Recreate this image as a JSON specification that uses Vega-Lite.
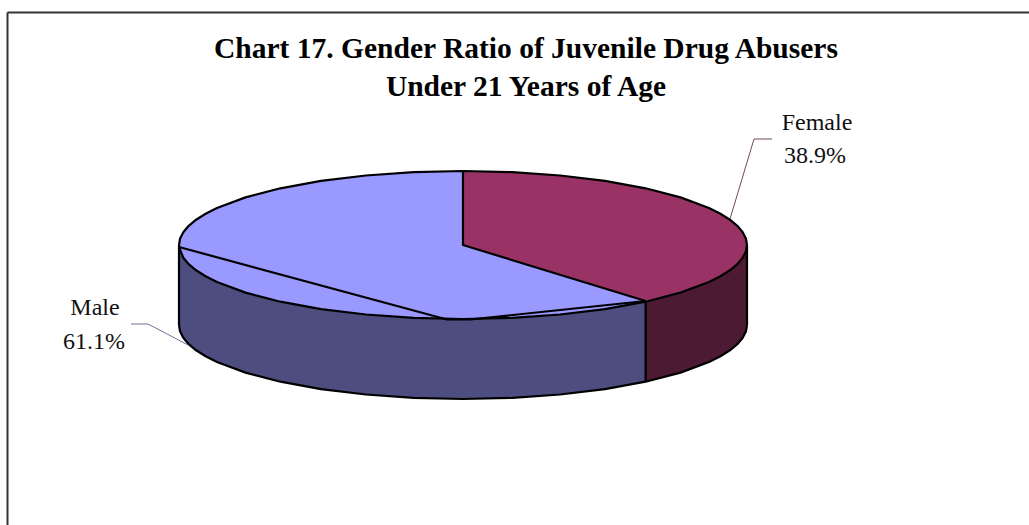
{
"$schema":"https://vega.github.io/schema/vega-lite/v6.json",
"width":1029,"height":525,
"autosize":{"type":"fit","contains":"padding"},
"padding":0,
"background":"white",
"view":{"stroke":null},
"datasets":{
"sides":[
{"s":"Male side","x":179,"y":245,"y2":325},
{"s":"Male side","x":180.1,"y":251.5,"y2":331.5},
{"s":"Male side","x":183.3,"y":257.8,"y2":337.8},
{"s":"Male side","x":188.7,"y":264.2,"y2":344.2},
{"s":"Male side","x":196.1,"y":270.3,"y2":350.3},
{"s":"Male side","x":205.6,"y":276.3,"y2":356.3},
{"s":"Male side","x":217,"y":282,"y2":362},
{"s":"Male side","x":245.5,"y":292.6,"y2":372.6},
{"s":"Male side","x":280.4,"y":301.7,"y2":381.7},
{"s":"Male side","x":321,"y":309.1,"y2":389.1},
{"s":"Male side","x":365.9,"y":314.5,"y2":394.5},
{"s":"Male side","x":413.7,"y":317.9,"y2":397.9},
{"s":"Male side","x":463,"y":319,"y2":399},
{"s":"Male side","x":512.3,"y":317.9,"y2":397.9},
{"s":"Male side","x":560.1,"y":314.5,"y2":394.5},
{"s":"Male side","x":605,"y":309.1,"y2":389.1},
{"s":"Male side","x":645.6,"y":301.7,"y2":381.7},
{"s":"Female side","x":645.6,"y":301.7,"y2":381.7},
{"s":"Female side","x":680.5,"y":292.6,"y2":372.6},
{"s":"Female side","x":709,"y":282,"y2":362},
{"s":"Female side","x":720.4,"y":276.3,"y2":356.3},
{"s":"Female side","x":729.9,"y":270.3,"y2":350.3},
{"s":"Female side","x":737.3,"y":264.2,"y2":344.2},
{"s":"Female side","x":742.7,"y":257.8,"y2":337.8},
{"s":"Female side","x":745.9,"y":251.5,"y2":331.5},
{"s":"Female side","x":747,"y":245,"y2":325}
],
"topMale":[
{"x":179,"y":245,"y2":245},
{"x":180.1,"y":238.5,"y2":251.5},
{"x":183.3,"y":232.2,"y2":257.8},
{"x":188.7,"y":225.8,"y2":264.2},
{"x":196.1,"y":219.7,"y2":270.3},
{"x":205.6,"y":213.7,"y2":276.3},
{"x":217,"y":208,"y2":282},
{"x":245.5,"y":197.4,"y2":292.6},
{"x":280.4,"y":188.3,"y2":301.7},
{"x":321,"y":180.9,"y2":309.1},
{"x":365.9,"y":175.5,"y2":314.5},
{"x":413.7,"y":172.1,"y2":317.9},
{"x":463,"y":171,"y2":319},
{"x":512.3,"y":172.1,"y2":317.9},
{"x":560.1,"y":175.5,"y2":314.5},
{"x":605,"y":180.9,"y2":309.1},
{"x":645.6,"y":188.3,"y2":301.7}
],
"topFemale":[
{"x":463,"y":171,"y2":245},
{"x":512.3,"y":172.1,"y2":260.1},
{"x":560.1,"y":175.5,"y2":274.8},
{"x":605,"y":180.9,"y2":288.6},
{"x":645.6,"y":188.3,"y2":301},
{"x":680.5,"y":197.4,"y2":292.6},
{"x":709,"y":208,"y2":282},
{"x":720.4,"y":213.7,"y2":276.3},
{"x":729.9,"y":219.7,"y2":270.3},
{"x":737.3,"y":225.8,"y2":264.2},
{"x":742.7,"y":232.2,"y2":257.8},
{"x":745.9,"y":238.5,"y2":251.5},
{"x":747,"y":245,"y2":245}
],
"outlines":[
{"p":"upper","o":1,"x":179,"y":245},{"p":"upper","o":2,"x":180.1,"y":238.5},{"p":"upper","o":3,"x":183.3,"y":232.2},{"p":"upper","o":4,"x":188.7,"y":225.8},{"p":"upper","o":5,"x":196.1,"y":219.7},{"p":"upper","o":6,"x":205.6,"y":213.7},{"p":"upper","o":7,"x":217,"y":208},{"p":"upper","o":8,"x":245.5,"y":197.4},{"p":"upper","o":9,"x":280.4,"y":188.3},{"p":"upper","o":10,"x":321,"y":180.9},{"p":"upper","o":11,"x":365.9,"y":175.5},{"p":"upper","o":12,"x":413.7,"y":172.1},{"p":"upper","o":13,"x":463,"y":171},{"p":"upper","o":14,"x":512.3,"y":172.1},{"p":"upper","o":15,"x":560.1,"y":175.5},{"p":"upper","o":16,"x":605,"y":180.9},{"p":"upper","o":17,"x":645.6,"y":188.3},{"p":"upper","o":18,"x":680.5,"y":197.4},{"p":"upper","o":19,"x":709,"y":208},{"p":"upper","o":20,"x":720.4,"y":213.7},{"p":"upper","o":21,"x":729.9,"y":219.7},{"p":"upper","o":22,"x":737.3,"y":225.8},{"p":"upper","o":23,"x":742.7,"y":232.2},{"p":"upper","o":24,"x":745.9,"y":238.5},{"p":"upper","o":25,"x":747,"y":245},
{"p":"rim","o":1,"x":179,"y":247},{"p":"rim","o":2,"x":183.3,"y":257.8},{"p":"rim","o":3,"x":188.7,"y":264.2},{"p":"rim","o":4,"x":196.1,"y":270.3},{"p":"rim","o":5,"x":205.6,"y":276.3},{"p":"rim","o":6,"x":217,"y":282},{"p":"rim","o":7,"x":245.5,"y":292.6},{"p":"rim","o":8,"x":280.4,"y":301.7},{"p":"rim","o":9,"x":321,"y":309.1},{"p":"rim","o":10,"x":365.9,"y":314.5},{"p":"rim","o":11,"x":413.7,"y":317.9},{"p":"rim","o":12,"x":463,"y":319},{"p":"rim","o":13,"x":512.3,"y":317.9},{"p":"rim","o":14,"x":560.1,"y":314.5},{"p":"rim","o":15,"x":605,"y":309.1},{"p":"rim","o":16,"x":645.6,"y":301.7},{"p":"rim","o":17,"x":680.5,"y":292.6},{"p":"rim","o":18,"x":709,"y":282},{"p":"rim","o":19,"x":720.4,"y":276.3},{"p":"rim","o":20,"x":729.9,"y":270.3},{"p":"rim","o":21,"x":737.3,"y":264.2},{"p":"rim","o":22,"x":742.7,"y":257.8},{"p":"rim","o":23,"x":745.9,"y":251.5},{"p":"rim","o":24,"x":747,"y":245},
{"p":"bottom","o":1,"x":179,"y":325},{"p":"bottom","o":2,"x":180.1,"y":331.5},{"p":"bottom","o":3,"x":183.3,"y":337.8},{"p":"bottom","o":4,"x":188.7,"y":344.2},{"p":"bottom","o":5,"x":196.1,"y":350.3},{"p":"bottom","o":6,"x":205.6,"y":356.3},{"p":"bottom","o":7,"x":217,"y":362},{"p":"bottom","o":8,"x":245.5,"y":372.6},{"p":"bottom","o":9,"x":280.4,"y":381.7},{"p":"bottom","o":10,"x":321,"y":389.1},{"p":"bottom","o":11,"x":365.9,"y":394.5},{"p":"bottom","o":12,"x":413.7,"y":397.9},{"p":"bottom","o":13,"x":463,"y":399},{"p":"bottom","o":14,"x":512.3,"y":397.9},{"p":"bottom","o":15,"x":560.1,"y":394.5},{"p":"bottom","o":16,"x":605,"y":389.1},{"p":"bottom","o":17,"x":645.6,"y":381.7},{"p":"bottom","o":18,"x":680.5,"y":372.6},{"p":"bottom","o":19,"x":709,"y":362},{"p":"bottom","o":20,"x":720.4,"y":356.3},{"p":"bottom","o":21,"x":729.9,"y":350.3},{"p":"bottom","o":22,"x":737.3,"y":344.2},{"p":"bottom","o":23,"x":742.7,"y":337.8},{"p":"bottom","o":24,"x":745.9,"y":331.5},{"p":"bottom","o":25,"x":747,"y":325},
{"p":"left","o":1,"x":179,"y":245},{"p":"left","o":2,"x":179,"y":325},
{"p":"right","o":1,"x":747,"y":245},{"p":"right","o":2,"x":747,"y":325},
{"p":"seam","o":1,"x":645.6,"y":301.7},{"p":"seam","o":2,"x":645.6,"y":381.7},
{"p":"wedge","o":1,"x":463,"y":171},{"p":"wedge","o":2,"x":463,"y":245},{"p":"wedge","o":3,"x":645.6,"y":301},
{"p":"front","o":1,"x":179,"y":247},{"p":"front","o":2,"x":447,"y":319.5},{"p":"front","o":3,"x":470,"y":319.5},{"p":"front","o":4,"x":645.6,"y":301}
],
"leaders":[
{"p":"male","o":1,"x":131,"y":324},{"p":"male","o":2,"x":148,"y":324},{"p":"male","o":3,"x":190,"y":346},
{"p":"female","o":1,"x":730,"y":219},{"p":"female","o":2,"x":754,"y":139},{"p":"female","o":3,"x":772,"y":139}
],
"labels":[
{"t":"Female","x":817,"y":130},{"t":"38.9%","x":815,"y":163},
{"t":"Male","x":95,"y":315},{"t":"61.1%","x":94,"y":349}
],
"frame":[
{"p":"top","o":1,"x":7.5,"y":12.5},{"p":"top","o":2,"x":1029,"y":12.5},
{"p":"left","o":1,"x":7.5,"y":12.5},{"p":"left","o":2,"x":7.5,"y":525}
],
"titleText":[
{"t":"Chart 17. Gender Ratio of Juvenile Drug Abusers","x":526,"y":58},
{"t":"Under 21 Years of Age","x":526,"y":96}
]
},
"encoding":{
 "x":{"field":"x","type":"quantitative","scale":{"domain":[0,1029],"nice":false,"zero":false},"axis":null},
 "y":{"field":"y","type":"quantitative","scale":{"domain":[525,0],"nice":false,"zero":false},"axis":null}
},
"layer":[
{"data":{"name":"sides"},"mark":{"type":"area"},
 "encoding":{"y2":{"field":"y2"},
 "color":{"field":"s","type":"nominal","legend":null,"scale":{"domain":["Male side","Female side"],"range":["#4d4d80","#4d1a33"]}}}},
{"data":{"name":"topMale"},"mark":{"type":"area","color":"#9999ff"},
 "encoding":{"y2":{"field":"y2"}}},
{"data":{"name":"topFemale"},"mark":{"type":"area","color":"#993366"},
 "encoding":{"y2":{"field":"y2"}}},
{"data":{"name":"outlines"},"mark":{"type":"line","color":"black","strokeWidth":2.2,"strokeJoin":"round"},
 "encoding":{"detail":{"field":"p"},"order":{"field":"o","type":"quantitative"}}},
{"data":{"name":"leaders"},"mark":{"type":"line","strokeWidth":0.8},
 "encoding":{"order":{"field":"o","type":"quantitative"},
 "color":{"field":"p","type":"nominal","legend":null,"scale":{"domain":["male","female"],"range":["#222222","#777777"]}}}},
{"data":{"name":"frame"},"mark":{"type":"line","color":"#333333","strokeWidth":2,"clip":true},
 "encoding":{"detail":{"field":"p"},"order":{"field":"o","type":"quantitative"}}},
{"data":{"name":"labels"},"mark":{"type":"text","font":"Liberation Serif","fontSize":24,"color":"#111111","baseline":"alphabetic","align":"center"},
 "encoding":{"text":{"field":"t"}}},
{"data":{"name":"titleText"},"mark":{"type":"text","font":"Liberation Serif","fontSize":29.5,"fontWeight":"bold","color":"black","baseline":"alphabetic","align":"center"},
 "encoding":{"text":{"field":"t"}}}
]
}
